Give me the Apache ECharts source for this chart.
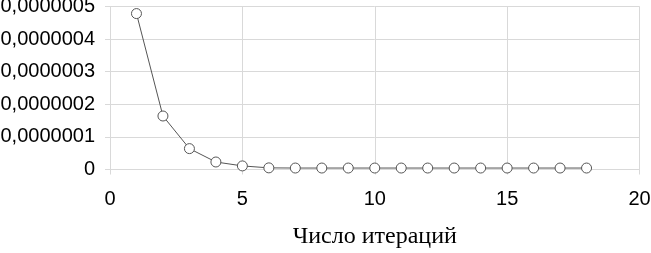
<!DOCTYPE html>
<html><head><meta charset="utf-8">
<script src="https://cdn.jsdelivr.net/npm/echarts@6/dist/echarts.min.js"></script>
<style>html,body{margin:0;padding:0;background:#fff;overflow:hidden}#c{position:absolute;left:0;top:0;width:651px;height:253px}</style>
</head><body><div id="c"></div>
<script>
const iterations = [1,2,3,4,5,6,7,8,9,10,11,12,13,14,15,16,17,18];
const errors = [4.78e-7,1.64e-7,6.4e-8,2.3e-8,1.1e-8,5e-9,4.5e-9,4.5e-9,4.5e-9,4.5e-9,4.5e-9,4.5e-9,4.5e-9,4.5e-9,4.5e-9,4.5e-9,4.5e-9,4.5e-9];
const xTicks = [0,5,10,15,20];
const xName = 'Число итераций';

const gridColor = '#d9d9d9';
const chart = echarts.init(document.getElementById('c'), null, {renderer:'canvas', width:651, height:253});
chart.setOption({
  animation:false,
  grid:{left:110,right:11.5,top:6.4,bottom:83.5,containLabel:false,outerBoundsMode:'none'},
  xAxis:{type:'value',min:xTicks[0],max:xTicks[xTicks.length-1],interval:5,
    name:xName,nameLocation:'middle',nameGap:55,
    nameTextStyle:{fontFamily:'Liberation Serif',fontSize:24,color:'#000'},
    axisLine:{show:true,lineStyle:{color:gridColor,width:1}},
    axisTick:{show:true,length:5,lineStyle:{color:gridColor}},
    axisLabel:{fontFamily:'Liberation Sans',fontSize:20,color:'#000',margin:20},
    splitLine:{show:true,lineStyle:{color:gridColor,width:1}}},
  yAxis:{type:'value',min:0,max:5e-7,interval:1e-7,
    axisLine:{show:true,lineStyle:{color:gridColor,width:1}},
    axisTick:{show:true,length:5,lineStyle:{color:gridColor}},
    axisLabel:{fontFamily:'Liberation Sans',fontSize:20,color:'#000',margin:15,
      formatter:v=> v===0 ? '0' : v.toFixed(7).replace('.',',')},
    splitLine:{show:true,lineStyle:{color:gridColor,width:1}}},
  series:[{type:'line',data:iterations.map((x,i)=>[x,errors[i]]),
    symbol:'circle',symbolSize:10,showAllSymbol:true,
    lineStyle:{color:'#555',width:1},
    itemStyle:{color:'#fff',borderColor:'#555',borderWidth:1}}]
});
</script></body></html>
